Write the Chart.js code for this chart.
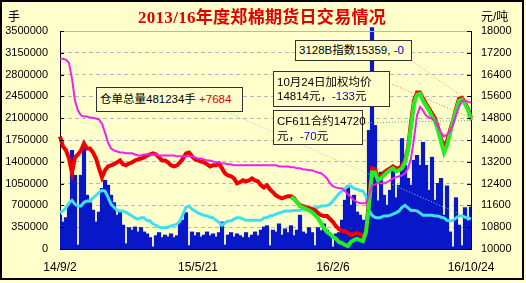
<!DOCTYPE html>
<html>
<head>
<meta charset="utf-8">
<script src="https://cdn.jsdelivr.net/npm/chart.js@4.4.0/dist/chart.umd.min.js"></script>
<style>
html, body { margin: 0; padding: 0; background: #ffffcc; }
#wrap { position: relative; width: 526px; height: 283px; overflow: hidden; }
#c { position: absolute; left: 0; top: 0; }
.t { position: absolute; white-space: nowrap; font-family: "Liberation Sans", "Noto Sans CJK SC", sans-serif; color: #000; }
#title { left: 0; width: 524px; top: 3px; text-align: center; font: bold 17px "Liberation Serif", "Noto Sans CJK SC", serif; color: #e00000; letter-spacing: 0.3px; }
.unit { top: 7px; font-size: 12px; }
.box { position: absolute; border: 1px solid #333; background: #ffffcc; box-sizing: border-box; white-space: nowrap;
       font-family: "Liberation Sans", "Noto Sans CJK SC", sans-serif; font-size: 11.5px; padding: 0 3px; color: #000; }
.r { color: #d00000; }
.b { color: #0000cc; }
</style>
</head>
<body>
<div id="wrap">
  <canvas id="c" width="526" height="283"></canvas>
  <div class="t" id="title">2013/16年度郑棉期货日交易情况</div>
  <div class="t unit" style="left:8px">手</div>
  <div class="t unit" style="left:481px">元/吨</div>
  <div class="box" style="left:96px;top:87px;width:147px;height:25px;line-height:23px">仓单总量481234手 <span class="r">+7684</span></div>
  <div class="box" style="left:295px;top:40px;width:117px;height:21px;line-height:19px">3128B指数15359, <span class="b">-0</span></div>
  <div class="box" style="left:273px;top:71px;width:117px;height:36px;line-height:14px;padding-top:3px">10月24日加权均价<br>14814元，<span class="b">-133</span>元</div>
  <div class="box" style="left:273px;top:110px;width:90px;height:35px;line-height:15px;padding-top:3px">CF611合约14720<br>元，<span class="b">-70</span>元</div>
</div>
<script>
// x axis: only four dates are labelled
const tickText = ['14/9/2', '15/5/21', '16/2/6', '16/10/24'];
const tickIdx = [0, 46, 91, 137];

// daily volume (手), left axis
const volume = [
  540000, 430000, 500000, 700000, 1580000, 1180000, 60000, 1180000, 1660000, 860000,
  740000, 620000, 430000, 590000, 970000, 1100000, 1020000, 860000, 740000, 540000,
  590000, 380000, 80000, 340000, 300000, 350000, 270000, 340000, 270000, 240000,
  180000, 30000, 210000, 260000, 180000, 220000, 190000, 240000, 180000, 210000,
  430000, 460000, 580000, 50000, 270000, 210000, 260000, 190000, 220000, 270000,
  210000, 240000, 190000, 260000, 430000, 60000, 220000, 260000, 190000, 240000,
  210000, 180000, 260000, 180000, 220000, 270000, 210000, 300000, 350000, 370000,
  50000, 300000, 270000, 400000, 220000, 320000, 260000, 370000, 210000, 300000,
  540000, 270000, 240000, 340000, 260000, 50000, 340000, 290000, 400000, 300000,
  210000, 30000, 240000, 260000, 460000, 780000, 1010000, 700000, 860000, 590000,
  540000, 460000, 370000, 1900000, 3550000, 1980000, 770000, 1230000, 860000, 700000,
  940000, 1290000, 820000, 1020000, 1770000, 1340000, 1130000, 1020000, 1420000, 1500000,
  1340000, 1710000, 1340000, 940000, 1470000, 780000, 1050000, 1130000, 540000, 1010000,
  270000, 30000, 820000, 380000, 50000, 660000, 450000, 670000
];

// 仓单总量 (手), left axis
const openInt = [
  590000, 610000, 660000, 740000, 780000, 720000, 690000, 690000, 750000, 770000,
  770000, 820000, 860000, 910000, 940000, 930000, 830000, 720000, 670000, 620000,
  610000, 610000, 590000, 560000, 530000, 500000, 480000, 500000, 500000, 460000,
  450000, 400000, 380000, 350000, 340000, 340000, 350000, 370000, 380000, 400000,
  450000, 560000, 670000, 690000, 640000, 610000, 580000, 560000, 540000, 530000,
  510000, 500000, 460000, 430000, 380000, 420000, 450000, 450000, 480000, 500000,
  500000, 480000, 460000, 460000, 460000, 460000, 460000, 460000, 500000, 500000,
  530000, 540000, 560000, 580000, 590000, 610000, 610000, 610000, 620000, 620000,
  620000, 640000, 640000, 660000, 660000, 660000, 670000, 690000, 690000, 700000,
  720000, 770000, 830000, 890000, 930000, 970000, 1010000, 1010000, 970000, 960000,
  940000, 930000, 850000, 620000, 540000, 510000, 500000, 510000, 530000, 530000,
  540000, 560000, 580000, 610000, 670000, 700000, 660000, 620000, 620000, 610000,
  580000, 540000, 540000, 540000, 540000, 530000, 530000, 510000, 500000, 460000,
  450000, 460000, 500000, 530000, 530000, 510000, 500000, 481234
];

// 加权均价 (元/吨), right axis
const avgPrice = [
  14130, 13760, 13620, 13320, 12810, 13360, 13470, 13620, 13870, 13690,
  13690, 13540, 13320, 12960, 12630, 12890, 13030, 13070, 13110, 13180,
  13250, 13110, 13070, 13140, 13180, 13250, 13290, 13320, 13360, 13430,
  13470, 13510, 13470, 13360, 13250, 13250, 13180, 13070, 13030, 13070,
  13180, 13320, 13510, 13540, 13400, 13290, 13250, 13210, 13180, 13110,
  13030, 13070, 13070, 13140, 12960, 12780, 12700, 12670, 12590, 12410,
  12450, 12520, 12480, 12520, 12590, 12520, 12480, 12340, 12260, 12340,
  12190, 12080, 11970, 11900, 11860, 11900, 11940, 11940, 11860, 11720,
  11610, 11570, 11530, 11500, 11460, 11420, 11320, 11240, 11210, 11210,
  11100, 10990, 10840, 10730, 10660, 10660, 10580, 10510, 10550, 10580,
  10550, 10470, 10620, 11790, 12960, 12920, 12630, 12670, 12810, 12890,
  12960, 13030, 12960, 12960, 13070, 13250, 13690, 14640, 15440, 15740,
  15740, 15520, 15330, 15150, 14970, 14790, 14460, 14050, 13760, 13950,
  14350, 14710, 15150, 15520, 15550, 15370, 15150, 14814
];

// CF611 合约 (元/吨), right axis, starts later
const cfPrice = Array(77).fill(null).concat([
  11900, 11830, 11720,
  11570, 11530, 11460, 11420, 11350, 11240, 11130, 10950, 10770, 10620,
  10550, 10440, 10370, 10260, 10220, 10150, 10110, 10260, 10330, 10370,
  10330, 10290, 10620, 11610, 12810, 12810, 12520, 12590, 12700, 12810,
  12890, 12960, 12850, 12890, 12960, 13180, 13620, 14490, 15330, 15660,
  15700, 15440, 15260, 15080, 14860, 14680, 14350, 13950, 13540, 13800,
  14240, 14680, 15080, 15440, 15480, 15330, 15110, 14720
]);

// 3128B 指数 (元/吨), right axis
const spotIndex = [
  16980, 16980, 16940, 16830, 16250, 15440, 15080, 14900, 14860, 14860,
  14820, 14820, 14790, 14750, 14600, 14270, 13910, 13690, 13620, 13580,
  13540, 13540, 13510, 13510, 13510, 13470, 13430, 13430, 13470, 13470,
  13470, 13470, 13470, 13430, 13430, 13430, 13430, 13430, 13430, 13400,
  13400, 13400, 13400, 13400, 13400, 13360, 13320, 13320, 13290, 13250,
  13250, 13210, 13180, 13180, 13140, 13140, 13110, 13110, 13070, 13070,
  13070, 13070, 13070, 13070, 13070, 13070, 13070, 13070, 13070, 13070,
  13070, 13070, 13070, 13030, 13030, 13030, 13030, 13000, 13000, 12960,
  12960, 12920, 12920, 12890, 12890, 12850, 12810, 12780, 12700, 12590,
  12410, 12300, 12260, 12230, 12230, 12120, 12010, 11900, 11790, 11720,
  11680, 11680, 11680, 11970, 12340, 12370, 12410, 12410, 12410, 12450,
  12520, 12590, 12630, 12670, 12700, 12780, 12960, 13320, 14050, 14900,
  15220, 15080, 14900, 14820, 14790, 14710, 14490, 14270, 14130, 14200,
  14310, 14570, 14900, 15220, 15440, 15440, 15410, 15359
];

const labels = volume.map(() => '');
tickIdx.forEach((k, j) => { labels[k] = tickText[j]; });

// background, frame, inner tick marks and the dotted pointer lines
const decor = {
  id: 'decor',
  beforeDraw(chart) {
    const ctx = chart.ctx;
    ctx.save();
    ctx.fillStyle = '#ffffcc';
    ctx.fillRect(0, 0, chart.width, chart.height);
    ctx.restore();
  },
  afterDatasetsDraw(chart) {
    const { ctx, chartArea: a, scales: { x, y, y1 } } = chart;
    const last = volume.length - 1;
    const ex = x.getPixelForValue(last);
    const ptr = [
      [225, 111, y.getPixelForValue(openInt[last]), '#80ddd0'],
      [412, 61, y1.getPixelForValue(spotIndex[last]), '#e088b0'],
      [389, 83, y1.getPixelForValue(avgPrice[last]), '#d08050'],
      [362, 123, y1.getPixelForValue(cfPrice[last]), '#50d050']
    ];
    ctx.save();
    ctx.lineWidth = 1;
    ctx.setLineDash([1, 2]);
    ptr.forEach(p => {
      ctx.strokeStyle = p[3];
      ctx.beginPath();
      ctx.moveTo(p[0], p[1]);
      ctx.lineTo(ex, p[2]);
      ctx.stroke();
    });
    ctx.setLineDash([]);
    ctx.strokeStyle = '#b8b8b8';
    ctx.beginPath();
    ctx.moveTo(a.left, a.top + 0.5);
    ctx.lineTo(a.right, a.top + 0.5);
    ctx.stroke();
    ctx.strokeStyle = '#000';
    y.ticks.forEach((t, i) => {
      const py = Math.round(y.getPixelForTick(i)) + 0.5;
      ctx.beginPath(); ctx.moveTo(a.left, py); ctx.lineTo(a.left + 4, py); ctx.stroke();
    });
    y1.ticks.forEach((t, i) => {
      const py = Math.round(y1.getPixelForTick(i)) + 0.5;
      ctx.beginPath(); ctx.moveTo(a.right - 4, py); ctx.lineTo(a.right, py); ctx.stroke();
    });
    ctx.restore();
  },
  afterDraw(chart) {
    const ctx = chart.ctx;
    ctx.save();
    ctx.strokeStyle = '#000';
    ctx.lineWidth = 2;
    ctx.strokeRect(1, 1, 522, 278);
    ctx.restore();
  }
};

const tickFont = { family: 'Liberation Sans', size: 11 };

new Chart(document.getElementById('c'), {
  data: {
    labels: labels,
    datasets: [
      { type: 'bar', data: volume, yAxisID: 'y', backgroundColor: '#0818c8', borderWidth: 0, inflateAmount: 0.6,
        barPercentage: 1, categoryPercentage: 1, order: 5, clip: { left: 0, top: 10, right: 0, bottom: 0 } },
      { type: 'line', data: openInt, yAxisID: 'y', borderColor: '#3ee0f0', borderWidth: 3, pointRadius: 0, order: 4 },
      { type: 'line', data: avgPrice, yAxisID: 'y1', borderColor: '#f00000', borderWidth: 4, pointRadius: 0, order: 3 },
      { type: 'line', data: cfPrice, yAxisID: 'y1', borderColor: '#22ee22', borderWidth: 4, pointRadius: 0, order: 2 },
      { type: 'line', data: spotIndex, yAxisID: 'y1', borderColor: '#ee22ee', borderWidth: 2, pointRadius: 0, order: 1 }
    ]
  },
  options: {
    responsive: false,
    animation: false,
    devicePixelRatio: 1,
    layout: { padding: { top: 31, left: 0, right: 0, bottom: 0 } },
    plugins: { legend: { display: false }, tooltip: { enabled: false } },
    scales: {
      x: {
        offset: false,
        grid: { display: false, drawTicks: false },
        border: { color: '#000' },
        ticks: { autoSkip: false, maxRotation: 0, padding: 11, color: '#000', font: { family: 'Liberation Sans', size: 12 } },
        afterFit: s => { s.height = 34; }
      },
      y: {
        position: 'left', min: 0, max: 3500000,
        grid: { color: '#b8b8b8', drawTicks: false },
        border: { color: '#000', dash: [4, 3] },
        ticks: { stepSize: 350000, padding: 12, color: '#000', font: tickFont, callback: v => Math.round(v) },
        afterFit: s => { s.width = 60; }
      },
      y1: {
        position: 'right', min: 10000, max: 18000,
        grid: { drawOnChartArea: false, drawTicks: false },
        border: { color: '#000' },
        ticks: { stepSize: 800, padding: 10, color: '#000', font: tickFont, callback: v => Math.round(v) },
        afterFit: s => { s.width = 55; }
      }
    }
  },
  plugins: [decor]
});
</script>
</body>
</html>
